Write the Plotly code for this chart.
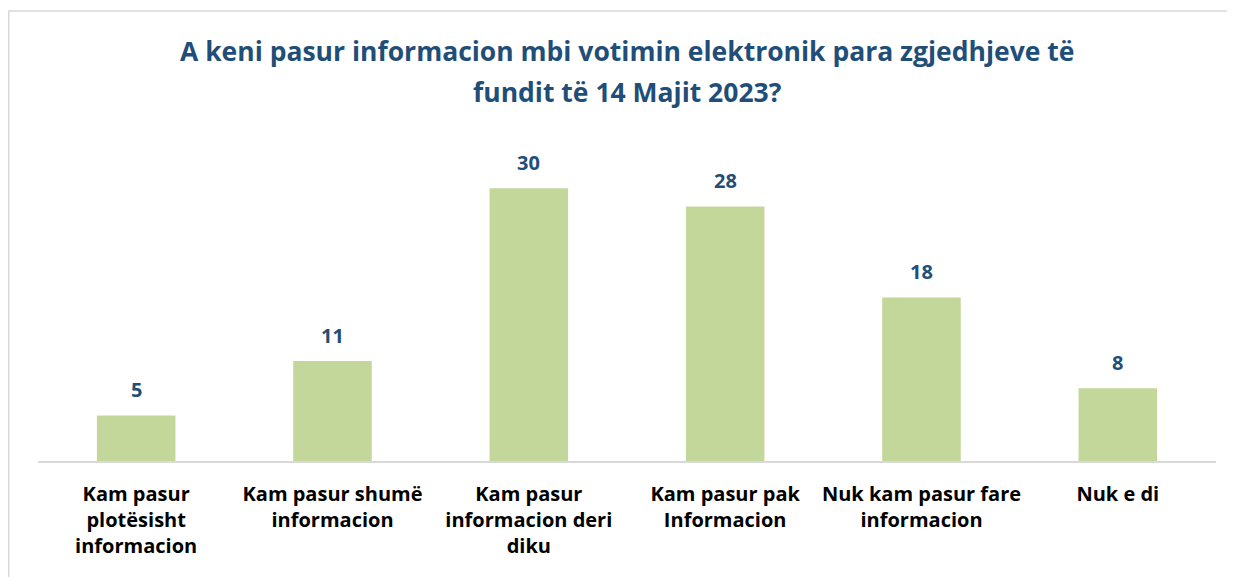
import plotly.graph_objects as go

categories = [
    "Kam pasur<br>plotësisht<br>informacion",
    "Kam pasur shumë<br>informacion",
    "Kam pasur<br>informacion deri<br>diku",
    "Kam pasur pak<br>Informacion",
    "Nuk kam pasur fare<br>informacion",
    "Nuk e di",
]
values = [5, 11, 30, 28, 18, 8]
title_lines = [
    "A keni pasur informacion mbi votimin elektronik para zgjedhjeve të",
    "fundit të 14 Majit 2023?",
]

FONT = "'Open Sans', Lato, sans-serif"
BLUE = "#1F4E79"

fig = go.Figure()
fig.add_trace(go.Bar(
    x=categories, y=values,
    marker=dict(color="#C4D79B", line=dict(width=0)),
    hoverinfo="skip",
))

for c, v in zip(categories, values):
    fig.add_annotation(
        x=c, y=v, text=str(v), showarrow=False, yanchor="middle", yshift=26,
        font=dict(family=FONT, size=20, color=BLUE, weight="bold"),
    )

for line, ypos in zip(title_lines, [1.327, 1.194]):
    fig.add_annotation(
        xref="paper", yref="paper", x=0.5, y=ypos, yanchor="middle",
        text=line, showarrow=False,
        font=dict(family=FONT, size=26.5, color=BLUE, weight="bold"),
    )

# chart border
fig.add_shape(type="rect", xref="paper", yref="paper",
              x0=-0.0248, x1=1.0136, y0=-0.5, y1=1.456,
              line=dict(color="#D9D9D9", width=1.5), fillcolor="rgba(0,0,0,0)")

fig.update_layout(
    width=1227, height=569,
    margin=dict(l=30, r=19, t=144, b=116),
    paper_bgcolor="white", plot_bgcolor="white",
    bargap=0.6, showlegend=False,
    font=dict(family=FONT),
)
fig.update_xaxes(
    showline=True, linecolor="#D9D9D9", linewidth=2, ticks="",
    tickfont=dict(family=FONT, size=20, color="#000000", weight="bold"),
    ticklabelstandoff=14,
    showgrid=False,
)
fig.update_yaxes(visible=False, range=[0, 34], showgrid=False, zeroline=False)

fig.write_html("out.html")
